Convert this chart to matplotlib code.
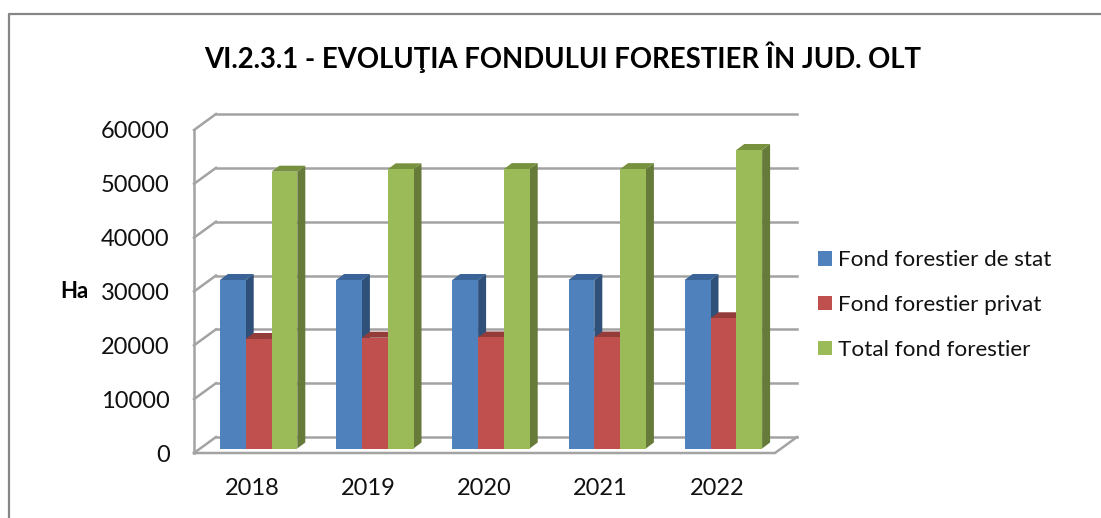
import matplotlib
matplotlib.use("Agg")
import matplotlib.pyplot as plt
from matplotlib.patches import Polygon, Patch
from matplotlib.lines import Line2D

years = ["2018", "2019", "2020", "2021", "2022"]
fond_stat = [31300, 31300, 31300, 31300, 31300]
fond_privat = [20340, 20580, 20620, 20620, 24190]
fond_total = [51420, 51860, 51900, 51900, 55450]
series_names = ["Fond forestier de stat", "Fond forestier privat", "Total fond forestier"]
y_ticks = [0, 10000, 20000, 30000, 40000, 50000, 60000]

W, H = 1101, 518
plt.rcParams['font.family'] = ['Lato', 'DejaVu Sans']

# front, side and top colours of each series
colors = [("#4f81bd", "#2f5079", "#3a6497"),
          ("#c0504d", "#7e3331", "#943c3a"),
          ("#9bbb59", "#667b3a", "#77913f")]
grid_color = "#a3a3a3"

fig = plt.figure(figsize=(W / 100, H / 100), dpi=100)
fig.patch.set_facecolor("white")

# outer frame of the chart: only left and top are inside the picture
frame = Line2D([8.5 / W, 8.5 / W, 1], [0, 1 - 14 / H, 1 - 14 / H], transform=fig.transFigure,
               color="#868686", lw=1.6)
fig.add_artist(frame)

# axes cover the front plane of the 3d box
left, right, top, bottom = 194, 775, 130, 453
ax = fig.add_axes([left / W, 1 - bottom / H, (right - left) / W, (bottom - top) / H])
ax.set_xlim(-0.5, 4.5)
ax.set_ylim(0, 60000)
ax.patch.set_alpha(0)
for s in ax.spines.values():
    s.set_visible(False)

px_x = 5.0 / (right - left)
px_y = 60000.0 / (bottom - top)

# depth of the box and of the bars, in data units
box_dx, box_dy = 22 * px_x, 16 * px_y
bar_dx, bar_dy = 8 * px_x, 6 * px_y
bar_base = 4.5 * px_y
bar_w = 25.8 * px_x
shift = 6.5 * px_x


def line3d(xs, ys, **kw):
    ax.plot(xs, ys, color=grid_color, lw=1.8, clip_on=False, solid_capstyle="projecting",
            zorder=1, **kw)


# walls and gridlines
for v in y_ticks:
    line3d([-0.5, -0.5 + box_dx], [v, v + box_dy])
    line3d([-0.5 + box_dx, 4.5 + box_dx], [v + box_dy, v + box_dy])
line3d([-0.5, -0.5], [0, 60000])
line3d([-0.5, 4.5, 4.5 + box_dx], [0, 0, box_dy])

# bars, with the side and top faces added as polygons
all_series = [fond_stat, fond_privat, fond_total]
for j, values in enumerate(all_series):
    x = [i + shift + (j - 1) * bar_w for i in range(len(years))]
    ax.bar(x, values, bar_w, bottom=bar_base, color=colors[j][0], zorder=3 + 2 * j, clip_on=False)
    for xc, v in zip(x, values):
        x0, x1 = xc - bar_w / 2, xc + bar_w / 2
        y0, y1 = bar_base, bar_base + v
        ax.add_patch(Polygon([(x1, y0), (x1 + bar_dx, y0 + bar_dy), (x1 + bar_dx, y1 + bar_dy), (x1, y1)],
                             fc=colors[j][1], ec="none", zorder=2 + 2 * j, clip_on=False))
        ax.add_patch(Polygon([(x0, y1), (x0 + bar_dx, y1 + bar_dy), (x1 + bar_dx, y1 + bar_dy), (x1, y1)],
                             fc=colors[j][2], ec="none", zorder=2 + 2 * j, clip_on=False))

ax.set_xticks(range(len(years)), years)
ax.set_yticks(y_ticks, [str(v) for v in y_ticks])
ax.tick_params(axis="x", length=0, pad=18, labelsize=17, labelcolor="#111111")
ax.tick_params(axis="y", length=0, pad=17.5, labelsize=17, labelcolor="#111111")

fig.text(562.5 / W, 1 - 57 / H, "VI.2.3.1 - EVOLUŢIA FONDULUI FORESTIER ÎN JUD. OLT",
         ha="center", va="center", fontsize=19.85, fontweight="bold", color="#000000")
fig.text(74 / W, 1 - 291 / H, "Ha", ha="center", va="center", fontsize=16,
         fontweight="bold", color="#000000")

handles = [Patch(fc=c[0], ec="none") for c in colors]
ax.legend(handles, series_names, loc="upper left", bbox_to_anchor=(798 / W, 1 - 230 / H),
          bbox_transform=fig.transFigure, frameon=False, fontsize=16.2, handlelength=0.62,
          handleheight=0.62, handletextpad=0.27, labelspacing=1.1, labelcolor="#111111")

fig.savefig("out.png", dpi=100)
